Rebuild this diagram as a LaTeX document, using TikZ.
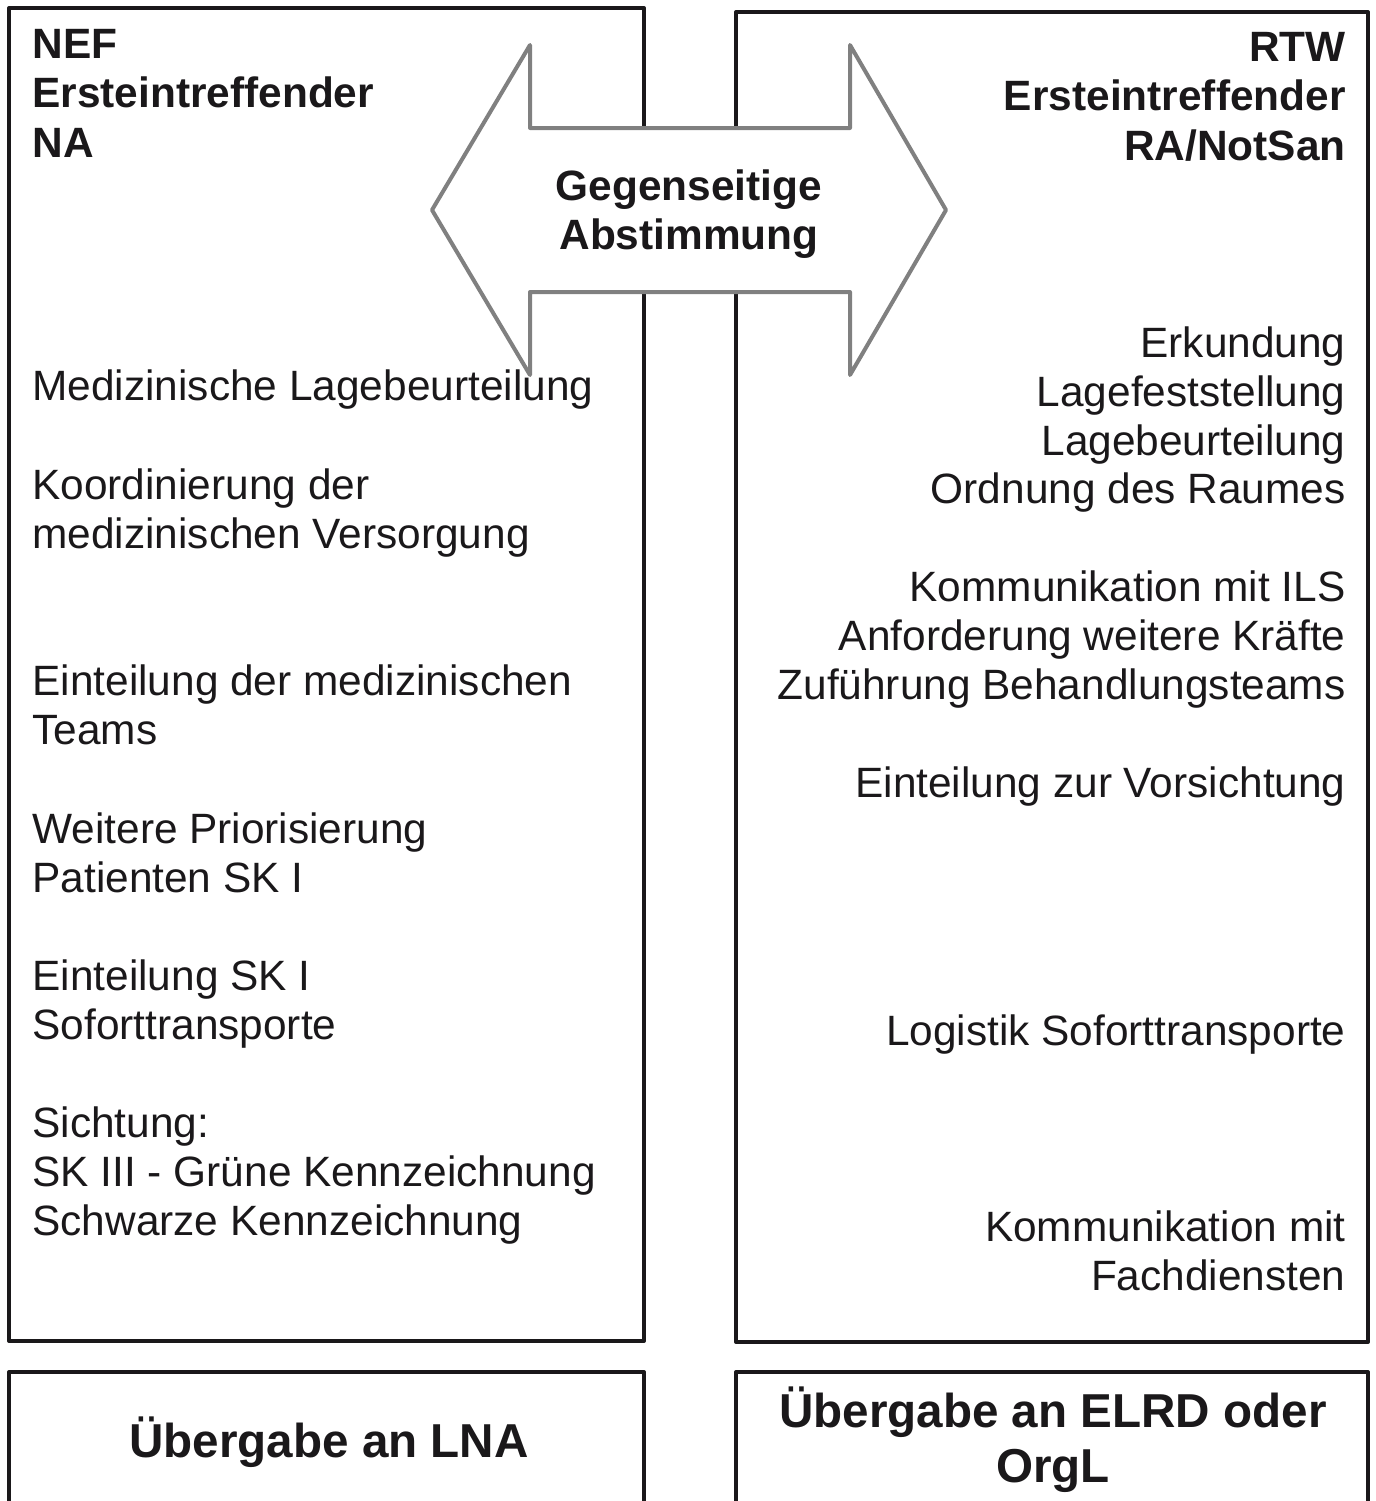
\documentclass[tikz,border=0pt]{standalone}
\usepackage{fontspec}
\setmainfont{Liberation Sans}
\definecolor{arrowgray}{RGB}{128,128,128}
\definecolor{ink}{RGB}{26,24,26}
\begin{document}
\begin{tikzpicture}[x=0.5pt,y=-0.5pt,
  boxline/.style={draw=ink,line width=2pt,line join=round},
  arrowline/.style={draw=arrowgray,line width=2pt,fill=white,line join=round},
  lt/.style={anchor=base west,inner sep=0pt,text=ink,font=\fontsize{21.2}{24.5}\selectfont},
  rt/.style={anchor=base east,inner sep=0pt,text=ink,font=\fontsize{21.2}{24.5}\selectfont},
  lhd/.style={lt,font=\fontsize{21.2}{24.5}\selectfont\bfseries},
  rhd/.style={rt,font=\fontsize{21.2}{24.5}\selectfont\bfseries},
  ctr/.style={anchor=base,inner sep=0pt,text=ink,font=\fontsize{21.2}{24.5}\selectfont\bfseries},
  btm/.style={anchor=base,inner sep=0pt,text=ink,font=\fontsize{23.8}{27.5}\selectfont\bfseries}]
\useasboundingbox (0,0) rectangle (1376,1501);
\begin{scope}
\clip (0,0) rectangle (1376,1501);
% upper boxes
\draw[boxline] (9,8) rectangle (644,1341);
\draw[boxline] (736,12) rectangle (1368,1342);
% lower boxes (cut off at the bottom)
\draw[boxline] (9,1530) -- (9,1372) -- (644,1372) -- (644,1530);
\draw[boxline] (736,1530) -- (736,1372) -- (1368,1372) -- (1368,1530);
\end{scope}
% double arrow
\draw[arrowline] (432,210) -- (530,45) -- (530,128) -- (850,128) -- (850,45) -- (946,210)
  -- (850,375) -- (850,292) -- (530,292) -- (530,375) -- cycle;
\node[ctr] (c1) at (689,200) {Gegenseitige};
\node[ctr] (c2) at (689,249) {Abstimmung};
% left headers
\node[lhd] (l1) at (32,58) {NEF};
\node[lhd] (l2) at (32,107) {Ersteintreffender};
\node[lhd] (l3) at (32,157) {NA};
% right headers
\node[rhd] (r1) at (1346,61) {RTW};
\node[rhd] (r2) at (1346,110) {Ersteintreffender};
\node[rhd] (r3) at (1346,160) {RA/NotSan};
% left texts
\node[lt] (a1) at (32,400) {Medizinische Lagebeurteilung};
\node[lt] (a2) at (32,499) {Koordinierung der};
\node[lt] (a3) at (32,548) {medizinischen Versorgung};
\node[lt] (a4) at (32,695) {Einteilung der medizinischen};
\node[lt] (a5) at (32,744) {Teams};
\node[lt] (a6) at (32,843) {Weitere Priorisierung};
\node[lt] (a7) at (32,892) {Patienten SK I};
\node[lt] (a8) at (32,990) {Einteilung SK I};
\node[lt] (a9) at (32,1039) {Soforttransporte};
\node[lt] (a10) at (32,1137) {Sichtung:};
\node[lt] (a11) at (32,1186) {SK III - Grüne Kennzeichnung};
\node[lt] (a12) at (32,1235) {Schwarze Kennzeichnung};
% right texts
\node[rt] (b1) at (1346,357) {Erkundung};
\node[rt] (b2) at (1346,406) {Lagefeststellung};
\node[rt] (b3) at (1346,455) {Lagebeurteilung};
\node[rt] (b4) at (1346,503) {Ordnung des Raumes};
\node[rt] (b5) at (1346,601) {Kommunikation mit ILS};
\node[rt] (b6) at (1346,650) {Anforderung weitere Kräfte};
\node[rt] (b7) at (1346,699) {Zuführung Behandlungsteams};
\node[rt] (b8) at (1346,797) {Einteilung zur Vorsichtung};
\node[rt] (b9) at (1346,1045) {Logistik Soforttransporte};
\node[rt] (b10) at (1346,1241) {Kommunikation mit};
\node[rt] (b11) at (1346,1290) {Fachdiensten};
% bottom texts
\node[btm] (u1) at (329,1457) {Übergabe an LNA};
\node[btm] (u2) at (1053,1427) {Übergabe an ELRD oder};
\node[btm] (u3) at (1053,1482) {OrgL};
\end{tikzpicture}
\end{document}
